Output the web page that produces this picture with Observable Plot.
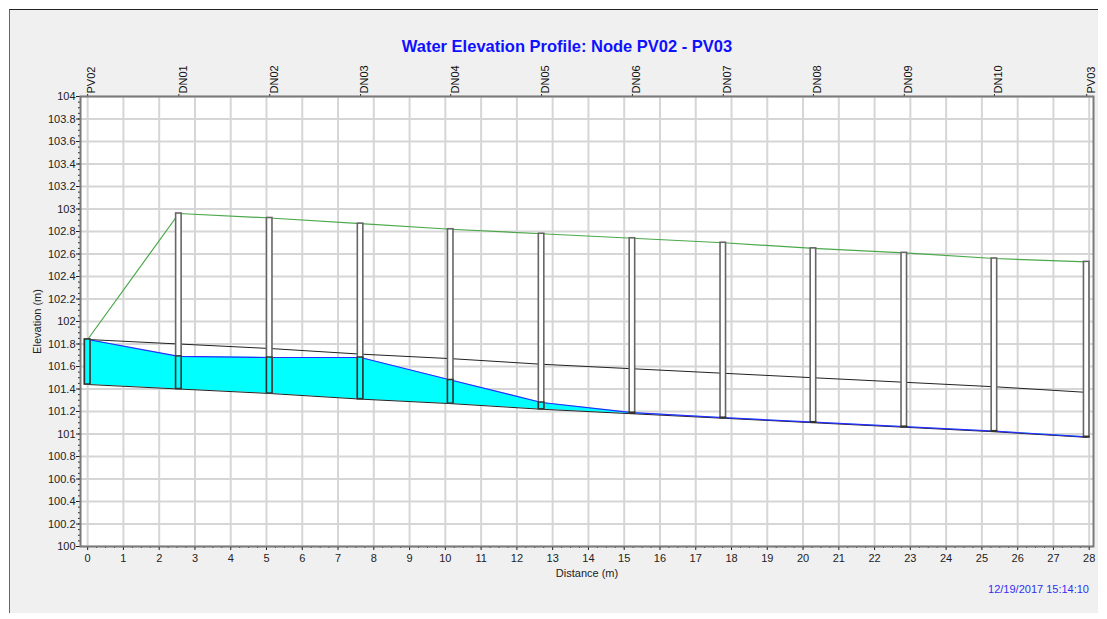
<!DOCTYPE html>
<html>
<head>
<meta charset="utf-8">
<script src="https://cdn.jsdelivr.net/npm/d3@7"></script>
<script src="https://cdn.jsdelivr.net/npm/@observablehq/plot@0.6"></script>
<style>
  html, body { margin: 0; padding: 0; background: #ffffff; }
  body { width: 1107px; height: 619px; position: relative; overflow: hidden; font-family: "Liberation Sans", Arial, sans-serif; }
  #panel { position: absolute; left: 9px; top: 9px; width: 1089px; height: 604px; background: #f0f0f0; border-top: 1px solid #222; border-left: 1px solid #666; box-sizing: border-box; }
  #chart { position: absolute; left: 0; top: 0; }
  #title { position: absolute; left: 567px; top: 37px; transform: translateX(-50%); white-space: nowrap; font-weight: bold; font-size: 16.5px; color: #1010ff; }
  #stamp { position: absolute; right: 18px; top: 583px; white-space: nowrap; font-size: 11px; color: #3030f0; }
</style>
</head>
<body>
<div id="panel"></div>
<div id="chart"></div>
<div id="title">Water Elevation Profile: Node PV02 - PV03</div>
<div id="stamp">12/19/2017 15:14:10</div>
<script>
// ---- data ----
const nodes = ["PV02", "DN01", "DN02", "DN03", "DN04", "DN05", "DN06", "DN07", "DN08", "DN09", "DN10", "PV03"];
const distance = [0, 2.55, 5.09, 7.63, 10.15, 12.69, 15.23, 17.77, 20.29, 22.83, 25.35, 27.93];
const groundElev = [101.84, 102.96, 102.92, 102.87, 102.82, 102.78, 102.74, 102.70, 102.65, 102.61, 102.56, 102.53];
const invertElev = [101.44, 101.40, 101.36, 101.31, 101.27, 101.22, 101.18, 101.14, 101.10, 101.06, 101.02, 100.97];
const waterElev = [101.84, 101.69, 101.68, 101.68, 101.48, 101.28, 101.19, 101.145, 101.105, 101.065, 101.025, 100.975];
const pipeDiameter = 0.4;
const xTicks = [0,1,2,3,4,5,6,7,8,9,10,11,12,13,14,15,16,17,18,19,20,21,22,23,24,25,26,27,28];
const yTicks = [100, 100.2, 100.4, 100.6, 100.8, 101, 101.2, 101.4, 101.6, 101.8, 102, 102.2, 102.4, 102.6, 102.8, 103, 103.2, 103.4, 103.6, 103.8, 104];

const profile = nodes.map((node, i) => ({
  node,
  dist: distance[i],
  ground: groundElev[i],
  invert: invertElev[i],
  crown: invertElev[i] + pipeDiameter,
  water: waterElev[i]
}));

const xMinor = d3.range(0, 28.001, 0.25);
const yMinor = d3.range(100, 104.001, 0.05);
const gridStyle = {stroke: "#d6d6d6", strokeOpacity: 1, strokeWidth: 2};

const chart = Plot.plot({
  width: 1107,
  height: 619,
  marginLeft: 80,
  marginRight: 14,
  marginTop: 96,
  marginBottom: 73,
  style: {background: "transparent", fontFamily: "'Liberation Sans', Arial, sans-serif", fontSize: "11px", color: "#222"},
  x: {domain: [-0.2, 28.12]},
  y: {domain: [100, 104]},
  marks: [
    Plot.frame({fill: "white"}),
    Plot.gridX(xTicks, gridStyle),
    Plot.gridY(yTicks, gridStyle),
    Plot.areaY(profile, {x: "dist", y1: "invert", y2: "water", fill: "#00ffff"}),
    Plot.line(profile, {x: "dist", y: "crown", stroke: "#222", strokeWidth: 1}),
    Plot.line(profile, {x: "dist", y: "invert", stroke: "#222", strokeWidth: 1}),
    Plot.line(profile, {x: "dist", y: "water", stroke: "#2a2aff", strokeWidth: 1.2}),
    Plot.line(profile, {x: "dist", y: "ground", stroke: "#4aa84a", strokeWidth: 1.2}),
    Plot.rect(profile, {x1: "dist", x2: "dist", y1: "invert", y2: "ground", insetLeft: -2.75, insetRight: -2.75, fill: "white", stroke: "#666", strokeWidth: 1.6}),
    Plot.rect(profile, {x1: "dist", x2: "dist", y1: "invert", y2: "water", insetLeft: -2.75, insetRight: -2.75, fill: "#00ffff", stroke: "#333", strokeWidth: 1.5}),
    Plot.axisY(yTicks, {anchor: "left", tickSize: 4, tickPadding: 1, tickFormat: d3.format("~f"), label: "Elevation (m)", labelAnchor: "center", labelOffset: 47, labelArrow: "none"}),
    Plot.axisY(yMinor, {anchor: "left", tickSize: 2, tickFormat: () => "", label: null}),
    Plot.axisX(xTicks, {anchor: "bottom", tickSize: 4, tickPadding: 4, label: "Distance (m)", labelAnchor: "center", labelOffset: 30, labelArrow: "none"}),
    Plot.axisX(xMinor, {anchor: "bottom", tickSize: 2, tickFormat: () => "", label: null}),
    Plot.axisX(distance, {anchor: "top", tickSize: 3, tickFormat: () => "", label: null}),
    Plot.text(profile, {x: "dist", frameAnchor: "top", text: "node", rotate: -90, textAnchor: "start", dy: -3, fontSize: 11, fill: "#111"}),
    Plot.frame({stroke: "#7a7a7a", strokeWidth: 2})
  ]
});
document.getElementById("chart").appendChild(chart);
</script>
</body>
</html>
